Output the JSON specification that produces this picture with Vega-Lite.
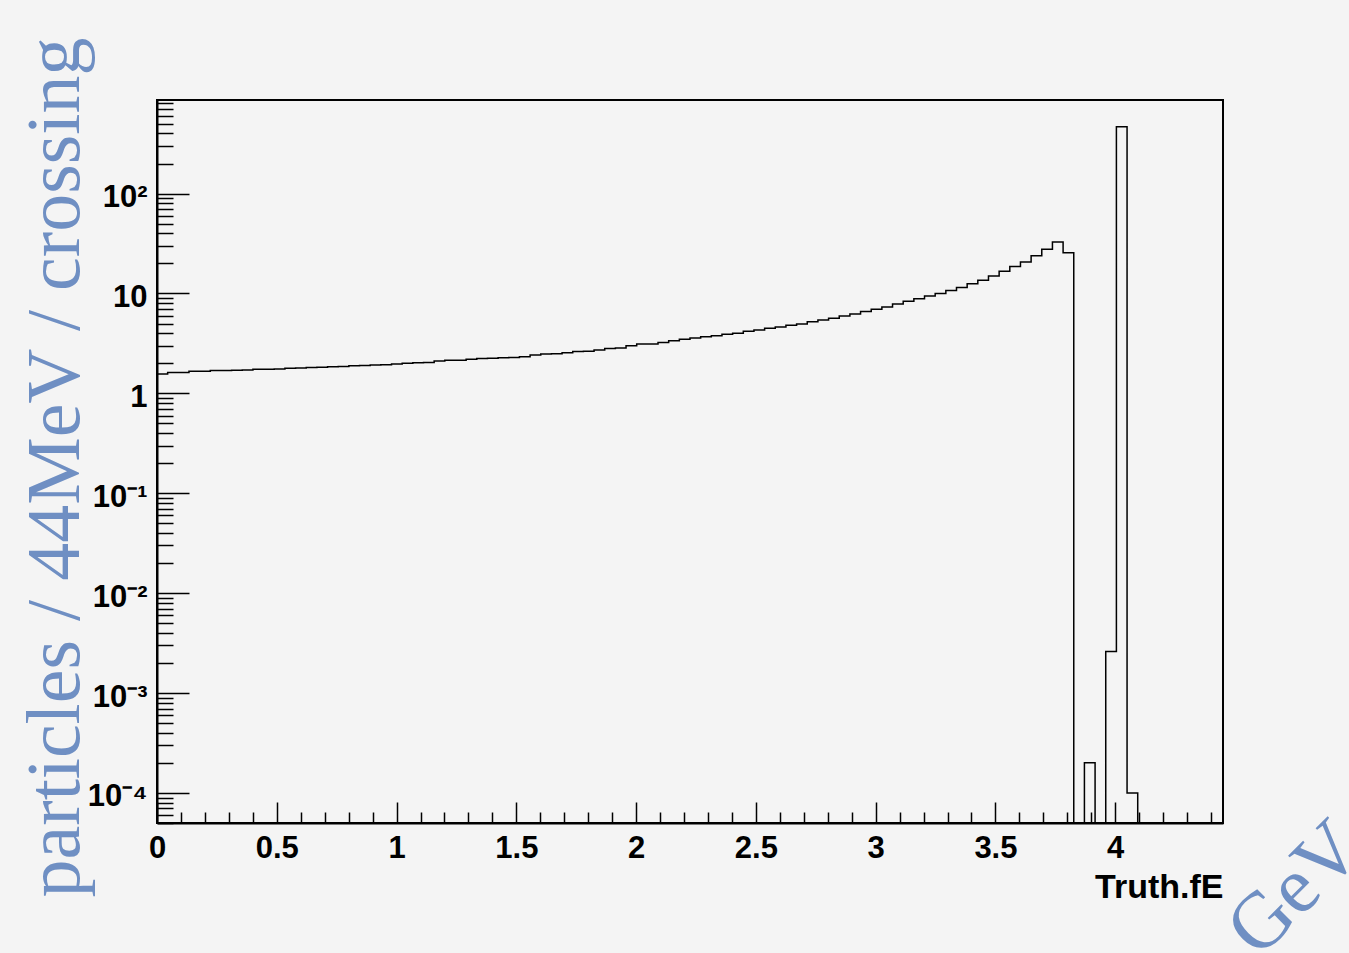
{
  "$schema": "https://vega.github.io/schema/vega-lite/v6.json",
  "autosize": {"type": "none"},
  "padding": {"left": 157, "top": 100, "right": 126, "bottom": 130},
  "width": 1066,
  "height": 723,
  "config": {
    "background": "#f4f4f4",
    "view": {"stroke": "black", "strokeWidth": 2}
  },
  "data": {"values": [
    {"lo": 0, "count": 1.56}, {"lo": 0.0445, "count": 1.62}, {"lo": 0.089, "count": 1.62}, {"lo": 0.1335, "count": 1.67},
    {"lo": 0.178, "count": 1.67}, {"lo": 0.2225, "count": 1.69}, {"lo": 0.267, "count": 1.69}, {"lo": 0.3115, "count": 1.70},
    {"lo": 0.356, "count": 1.71}, {"lo": 0.4005, "count": 1.74}, {"lo": 0.445, "count": 1.74}, {"lo": 0.4895, "count": 1.75},
    {"lo": 0.534, "count": 1.78}, {"lo": 0.5785, "count": 1.79}, {"lo": 0.623, "count": 1.82}, {"lo": 0.6675, "count": 1.83},
    {"lo": 0.712, "count": 1.85}, {"lo": 0.7565, "count": 1.86}, {"lo": 0.801, "count": 1.89}, {"lo": 0.8455, "count": 1.90},
    {"lo": 0.89, "count": 1.92}, {"lo": 0.9345, "count": 1.93}, {"lo": 0.979, "count": 1.97}, {"lo": 1.0235, "count": 2.0},
    {"lo": 1.068, "count": 2.03}, {"lo": 1.1125, "count": 2.04}, {"lo": 1.157, "count": 2.11}, {"lo": 1.2015, "count": 2.14},
    {"lo": 1.246, "count": 2.15}, {"lo": 1.2905, "count": 2.19}, {"lo": 1.335, "count": 2.24}, {"lo": 1.3795, "count": 2.25},
    {"lo": 1.424, "count": 2.27}, {"lo": 1.4685, "count": 2.29}, {"lo": 1.513, "count": 2.33}, {"lo": 1.5575, "count": 2.42},
    {"lo": 1.602, "count": 2.48}, {"lo": 1.6465, "count": 2.49}, {"lo": 1.691, "count": 2.55}, {"lo": 1.7355, "count": 2.63},
    {"lo": 1.78, "count": 2.64}, {"lo": 1.8245, "count": 2.72}, {"lo": 1.869, "count": 2.82}, {"lo": 1.9135, "count": 2.84},
    {"lo": 1.958, "count": 2.99}, {"lo": 2.0025, "count": 3.12}, {"lo": 2.047, "count": 3.13}, {"lo": 2.0915, "count": 3.24},
    {"lo": 2.136, "count": 3.37}, {"lo": 2.1805, "count": 3.48}, {"lo": 2.225, "count": 3.58}, {"lo": 2.2695, "count": 3.69},
    {"lo": 2.314, "count": 3.78}, {"lo": 2.3585, "count": 3.90}, {"lo": 2.403, "count": 3.99}, {"lo": 2.4475, "count": 4.18},
    {"lo": 2.492, "count": 4.31}, {"lo": 2.5365, "count": 4.48}, {"lo": 2.581, "count": 4.62}, {"lo": 2.6255, "count": 4.80},
    {"lo": 2.67, "count": 4.95}, {"lo": 2.7145, "count": 5.22}, {"lo": 2.759, "count": 5.42}, {"lo": 2.8035, "count": 5.64},
    {"lo": 2.848, "count": 5.95}, {"lo": 2.8925, "count": 6.23}, {"lo": 2.937, "count": 6.6}, {"lo": 2.9815, "count": 6.95},
    {"lo": 3.026, "count": 7.33}, {"lo": 3.0705, "count": 7.85}, {"lo": 3.115, "count": 8.35}, {"lo": 3.1595, "count": 8.87},
    {"lo": 3.204, "count": 9.44}, {"lo": 3.2485, "count": 10.0}, {"lo": 3.293, "count": 10.7}, {"lo": 3.3375, "count": 11.5},
    {"lo": 3.382, "count": 12.5}, {"lo": 3.4265, "count": 13.6}, {"lo": 3.471, "count": 15.0}, {"lo": 3.5155, "count": 16.7},
    {"lo": 3.56, "count": 18.6}, {"lo": 3.6045, "count": 20.7}, {"lo": 3.649, "count": 23.8}, {"lo": 3.6935, "count": 27.7},
    {"lo": 3.738, "count": 32.8}, {"lo": 3.7825, "count": 25.6}, {"lo": 3.827, "count": 0}, {"lo": 3.8715, "count": 0.0002},
    {"lo": 3.916, "count": 0}, {"lo": 3.9605, "count": 0.0026}, {"lo": 4.005, "count": 466}, {"lo": 4.0495, "count": 0.0001},
    {"lo": 4.094, "count": 0}, {"lo": 4.1385, "count": 0}, {"lo": 4.183, "count": 0}, {"lo": 4.2275, "count": 0},
    {"lo": 4.272, "count": 0}, {"lo": 4.3165, "count": 0}, {"lo": 4.361, "count": 0}, {"lo": 4.4055, "count": 0},
    {"lo": 4.45, "count": 0}
  ]},
  "resolve": {"axis": {"x": "independent"}},
  "layer": [
    {
      "mark": {"type": "line", "interpolate": "step-after", "color": "black", "strokeWidth": 1.5, "invalid": "show", "clip": true},
      "encoding": {
        "x": {
          "field": "lo", "type": "quantitative",
          "scale": {"domain": [0, 4.45], "nice": false, "zero": false},
          "axis": {
            "orient": "bottom",
            "title": "Truth.fE",
            "titleFont": "Liberation Sans", "titleFontWeight": "bold", "titleFontSize": 34, "titleColor": "black",
            "titleAlign": "right", "titleBaseline": "alphabetic", "titleX": 1066, "titleY": 74,
            "values": [0, 0.1, 0.2, 0.3, 0.4, 0.5, 0.6, 0.7, 0.8, 0.9, 1, 1.1, 1.2, 1.3, 1.4, 1.5, 1.6, 1.7, 1.8, 1.9, 2, 2.1, 2.2, 2.3, 2.4, 2.5, 2.6, 2.7, 2.8, 2.9, 3, 3.1, 3.2, 3.3, 3.4, 3.5, 3.6, 3.7, 3.8, 3.9, 4, 4.1, 4.2, 4.3, 4.4],
            "labelExpr": "abs(datum.value * 2 - round(datum.value * 2)) < 0.001 ? format(datum.value, '~g') : ''",
            "labelFont": "Liberation Sans", "labelFontWeight": "bold", "labelFontSize": 31, "labelColor": "black",
            "labelBaseline": "alphabetic", "labelPadding": 55, "labelFlush": false, "labelOverlap": false,
            "tickSize": {"condition": {"test": "abs(datum.value * 2 - round(datum.value * 2)) < 0.001", "value": -21}, "value": -11},
            "tickColor": "black", "tickWidth": 1.5,
            "domainColor": "black", "domainWidth": 2, "grid": false
          }
        },
        "y": {
          "field": "count", "type": "quantitative",
          "scale": {"type": "log", "domain": [0.00005, 865], "nice": false, "clamp": true},
          "axis": {
            "title": "particles / 44MeV / crossing",
            "titleFont": "Liberation Serif", "titleFontWeight": "normal", "titleFontSize": 76, "titleColor": "#6f8fc3",
            "titleAngle": -90, "titleX": -79, "titleY": 367, "titleAlign": "center", "titleBaseline": "alphabetic",
            "tickCount": 20,
            "labelExpr": "abs(datum.value / pow(10, round(log(datum.value) / LN10)) - 1) > 0.001 ? '' : (datum.value > 0.5 && datum.value < 2) ? '1' : (datum.value > 5 && datum.value < 20) ? '10' : (datum.value > 50 && datum.value < 200) ? '10²' : (datum.value > 0.05 && datum.value < 0.2) ? '10⁻¹' : (datum.value > 0.005 && datum.value < 0.02) ? '10⁻²' : (datum.value > 0.0005 && datum.value < 0.002) ? '10⁻³' : '10⁻⁴'",
            "labelFont": "Liberation Sans", "labelFontWeight": "bold", "labelFontSize": 31, "labelColor": "black",
            "labelAlign": "right", "labelBaseline": "middle", "labelOffset": 4, "labelPadding": 42,
            "labelOverlap": false, "labelFlush": false,
            "tickSize": {"condition": {"test": "abs(datum.value / pow(10, round(log(datum.value) / LN10)) - 1) < 0.001", "value": -32}, "value": -16},
            "tickColor": "black", "tickWidth": 1.5,
            "domainColor": "black", "domainWidth": 2, "grid": false
          }
        }
      }
    },
    {
      "mark": {"type": "point", "opacity": 0},
      "encoding": {
        "x": {
          "field": "lo", "type": "quantitative",
          "axis": {
            "orient": "bottom",
            "title": "GeV",
            "titleFont": "Liberation Serif", "titleFontWeight": "normal", "titleFontSize": 80, "titleColor": "#6f8fc3",
            "titleAngle": -45, "titleAlign": "left", "titleBaseline": "alphabetic", "titleX": 1101, "titleY": 136,
            "domain": false, "ticks": false, "labels": false, "grid": false
          }
        }
      }
    }
  ]
}
